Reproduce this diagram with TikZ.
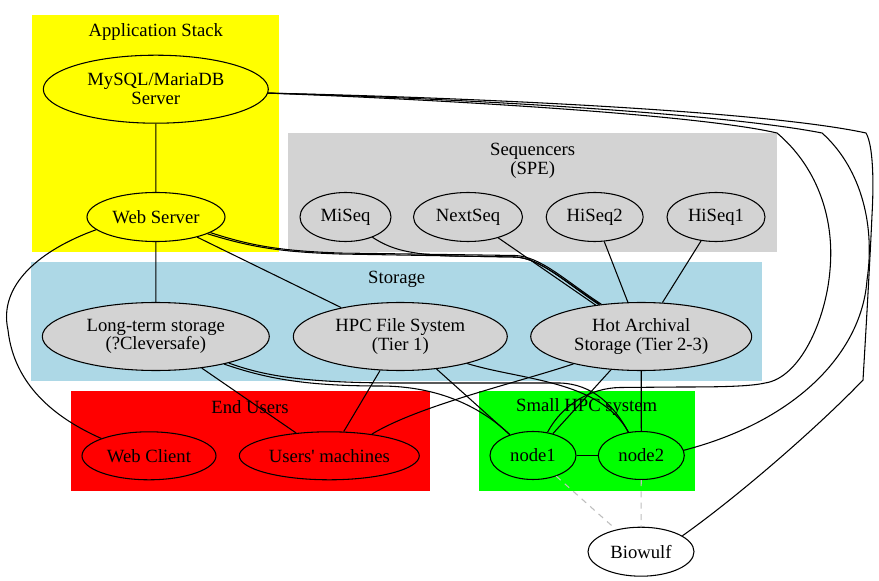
\documentclass[tikz,border=0pt]{standalone}
\usepackage{fontspec}
\setmainfont{Liberation Serif}
\usetikzlibrary{shapes.geometric}
\definecolor{lgray}{HTML}{D3D3D3}
\definecolor{lblue}{HTML}{ADD8E6}
\definecolor{gvgreen}{HTML}{00FF00}
\definecolor{gvred}{HTML}{FF0000}
\definecolor{gvyellow}{HTML}{FFFF00}
\definecolor{dashgray}{HTML}{BEBEBE}
\tikzset{
  lbl/.style={font=\fontsize{14}{14}\selectfont, align=center, inner sep=0pt},
  ell/.style={ellipse, draw=black, line width=0.8pt, inner sep=0pt, align=center,
              font=\fontsize{14}{14}\selectfont},
  esize/.style 2 args={minimum width=#1*0.75pt, minimum height=#2*0.75pt},
  edge/.style={draw=black, line width=0.8pt},
  dashedge/.style={draw=dashgray, line width=0.8pt, dash pattern=on 4.5pt off 4pt},
}
\begin{document}
\begin{tikzpicture}[x=0.75pt,y=-0.75pt]
\useasboundingbox (0,0) rectangle (879,581);
\fill[white] (0,0) rectangle (879,581);
% clusters
\fill[gvyellow] (32.3,15) rectangle (279.3,252.3);
\fill[lgray] (288.3,133.3) rectangle (776.7,251.7);
\fill[lblue] (31,261.7) rectangle (761.7,380.7);
\fill[gvred] (71,390.7) rectangle (430,491);
\fill[gvgreen] (479.3,390.7) rectangle (695,491);
% cluster labels
\node[lbl] (lapp) at (155.8,32.5) {Application Stack};
\node[lbl] (lseq) at (532.7,160.5) {Sequencers\\(SPE)};
\node[lbl] (lsto) at (396.7,279.5) {Storage};
\node[lbl] (lend) at (250,407.5) {End Users};
\node[lbl] (lhpc) at (586.7,407.5) {Small HPC system};
% nodes
\node[ell, fill=gvyellow, esize={225}{68}] (mysql) at (155.8,89.2) {MySQL/MariaDB\\Server};
\node[ell, fill=gvyellow, esize={138}{49}] (web) at (156,217) {Web Server};
\node[ell, fill=lgray, esize={91}{49}] (miseq) at (345.5,217) {MiSeq};
\node[ell, fill=lgray, esize={109}{49}] (nextseq) at (468,217) {NextSeq};
\node[ell, fill=lgray, esize={97}{49}] (hiseqb) at (594.7,217) {HiSeq2};
\node[ell, fill=lgray, esize={98}{49}] (hiseqa) at (716,217) {HiSeq1};
\node[ell, fill=lgray, esize={227}{68}] (lts) at (155.8,336.5) {Long-term storage\\(?Cleversafe)};
\node[ell, fill=lgray, esize={214}{68}] (hpc) at (400.3,336.5) {HPC File System\\(Tier 1)};
\node[ell, fill=lgray, esize={221}{68}] (hot) at (641.2,336.5) {Hot Archival\\Storage (Tier 2-3)};
\node[ell, fill=gvred, esize={134}{48}] (wclient) at (149,455.8) {Web Client};
\node[ell, fill=gvred, esize={180}{48}] (users) at (329.3,455.8) {Users\textquotesingle\ machines};
\node[ell, fill=gvgreen, esize={86}{48}] (nodea) at (533,455.5) {node1};
\node[ell, fill=gvgreen, esize={86}{48}] (nodeb) at (641.3,455.5) {node2};
\node[ell, fill=white, esize={106}{49}] (bio) at (641,551.7) {Biowulf};
% edges
\draw[edge] (mysql) -- (web);
\draw[edge] (web) -- (lts);
\draw[edge] (web) -- (hpc);
\draw[edge] (web.-18) .. controls (250,247) and (280,252) .. (340,254) -- (515,257)
  .. controls (540,258) and (565,282) .. (hot.142);
\draw[edge] (web.-16) .. controls (250,245.5) and (280,251) .. (340,253) -- (515,255.5)
  .. controls (541,256.5) and (565.5,281) .. (hot.141);
\draw[edge] (miseq.-37) .. controls (392,250) and (410,254) .. (450,256) -- (515,257)
  .. controls (540,258) and (565,282) .. (hot.143);
\draw[edge] (nextseq) -- (hot);
\draw[edge] (hiseqb) -- (hot);
\draw[edge] (hiseqa) -- (hot);
\draw[edge] (web.-168) .. controls (40,250) and (-2,285) .. (8,330)
  .. controls (14,385) and (55,418) .. (wclient.160);
\draw[edge] (lts) -- (users);
\draw[edge] (lts.-22) .. controls (262,377) and (300,386) .. (380,386)
  .. controls (440,386) and (482,408) .. (nodea.138);
\draw[edge] (lts.-20) .. controls (262,375) and (300,383) .. (400,383) -- (560,383)
  .. controls (592,384) and (614,405) .. (nodeb.119);
\draw[edge] (hpc) -- (users);
\draw[edge] (hpc) -- (nodea);
\draw[edge] (hpc.-22) .. controls (520,380) and (600,380) .. (nodeb.119);
\draw[edge] (hot.-158) .. controls (520,382) and (420,405) .. (users.27);
\draw[edge] (hot) -- (nodea);
\draw[edge] (hot) -- (nodeb);
\draw[edge] (nodea) -- (nodeb);
\draw[dashedge] (nodea) -- (bio);
\draw[dashedge] (nodeb) -- (bio);
% long edges from MySQL
\draw[edge] (mysql.-2) .. controls (450,100) and (700,115) .. (777,133)
  .. controls (815,165) and (835,215) .. (830,270)
  .. controls (826,320) and (800,378) .. (765,383)
  .. controls (750,386.5) and (720,387) .. (680,387) -- (620,387.5)
  .. controls (590,388) and (562,405) .. (nodea.58);
\draw[edge] (mysql.-2) .. controls (450,98) and (720,113) .. (822,133)
  .. controls (858,165) and (876,220) .. (867,280)
  .. controls (862,350) and (800,420) .. (nodeb.7);
\draw[edge] (mysql.-2) .. controls (450,97) and (760,110) .. (866,133)
  .. controls (873,145) and (874,180) .. (872,215)
  .. controls (870,260) and (866,330) .. (863,380)
  .. controls (820,425) and (740,495) .. (bio.21);
\end{tikzpicture}
\end{document}
